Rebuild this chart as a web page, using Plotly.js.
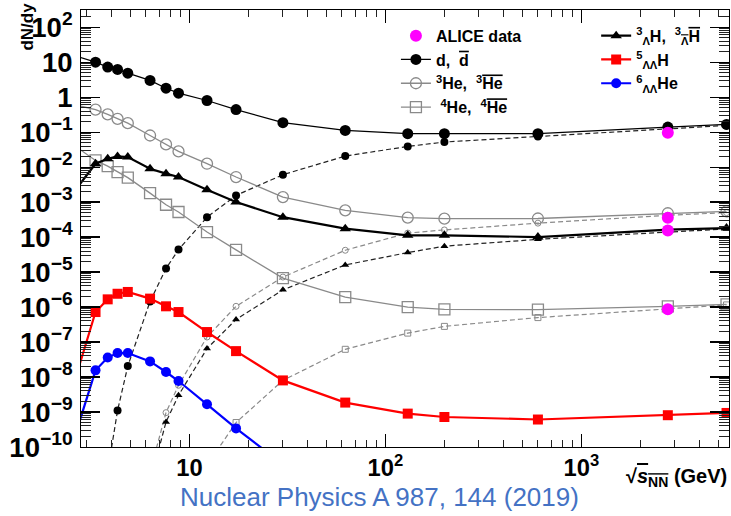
<!DOCTYPE html>
<html><head><meta charset="utf-8">
<script src="https://cdn.plot.ly/plotly-3.0.1.min.js"></script>
<style>html,body{margin:0;padding:0;background:#fff}#chart{width:731px;height:516px}</style>
</head><body><div id="chart"></div>
<script>
// sqrt(s_NN) in GeV
const energy = [2.4, 3.32, 3.83, 4.3, 4.85, 6.3, 7.6, 8.8, 12.3, 17.3, 30, 62.4, 130, 200, 600, 2760, 5500];

const deuteron     = [17.6, 10, 7.2, 6.2, 4.85, 3.0, 1.8, 1.3, 0.80, 0.44, 0.186, 0.112, 0.090, 0.090, 0.090, 0.139, 0.166];
const antiDeuteron = [null, null, 2e-11, 1.1e-9, 2.05e-8, 1.45e-6, 1.26e-5, 4.4e-5, 3.7e-4, 1.55e-3, 6.07e-3, 0.0206, 0.039, 0.052, 0.075, 0.125, 0.155];
const he3          = [0.67, 0.44, 0.32, 0.24, 0.18, 0.080, 0.0446, 0.0281, 0.0125, 5.2e-3, 1.39e-3, 5.8e-4, 3.6e-4, 3.36e-4, 3.4e-4, 4.8e-4, 5.4e-4];
const antiHe3      = [null, null, null, null, null, 2e-11, 9.6e-10, 5.8e-9, 1.39e-7, 1.05e-6, 7.2e-6, 4.2e-5, 1.3e-4, 1.6e-4, 2.5e-4, 4.2e-4, 5.0e-4];
const hyperH3      = [1.17e-3, 0.0125, 0.0174, 0.0202, 0.0193, 9.0e-3, 6.5e-3, 5.2e-3, 2.26e-3, 1.0e-3, 3.7e-4, 1.74e-4, 1.12e-4, 1.12e-4, 1.0e-4, 1.63e-4, 1.81e-4];
const antiHyperH3  = [null, null, null, null, null, 1e-11, 5.2e-10, 3.0e-9, 6.5e-8, 4.4e-7, 3.1e-6, 1.6e-5, 3.6e-5, 5.5e-5, 8.6e-5, 1.39e-4, 1.7e-4];
const he4          = [0.056, 0.0155, 0.0107, 7.2e-3, 5.0e-3, 1.8e-3, 8.4e-4, 5.2e-4, 1.39e-4, 4.3e-5, 6.7e-6, 1.93e-6, 1.0e-6, 8.6e-7, 8.4e-7, 1.05e-6, 1.2e-6];
const antiHe4      = [null, null, null, null, null, null, null, null, 3e-11, 5.0e-10, 8.0e-9, 6.2e-8, 1.8e-7, 2.8e-7, 5.0e-7, 9.0e-7, 1.15e-6];
const llH5         = [1.8e-9, 7.2e-7, 1.66e-6, 2.4e-6, 2.7e-6, 1.74e-6, 1.05e-6, 7.2e-7, 1.93e-7, 5.5e-8, 8.0e-9, 1.86e-9, 9.0e-10, 7.2e-10, 6.1e-10, 8.1e-10, 9.4e-10];
const llHe6        = [4.7e-11, 1.55e-8, 3.6e-8, 4.85e-8, 4.85e-8, 2.8e-8, 1.39e-8, 7.7e-9, 1.66e-9, 3.4e-10, 3.2e-11, null, null, null, null, null, null];

const aliceEnergy = [2760, 2760, 2760, 2760];
const aliceYield  = [0.096, 3.58e-4, 1.55e-4, 8.6e-7];

// minor tick positions (2..9 within each decade)
const xDecades = [0, 1, 2, 3];
const yDecades = [-10, -9, -8, -7, -6, -5, -4, -3, -2, -1, 0, 1, 2];
const minorDigits = [2, 3, 4, 5, 6, 7, 8, 9];
const minorVals = decs => decs.flatMap(d => minorDigits.map(k => k * Math.pow(10, d)));

const OL = s => '<span style="text-decoration:overline">' + s + '</span>';
const labels = {
  alice: 'ALICE data',
  d: 'd,  ' + OL('d'),
  he3: '<sup>3</sup>He,  <sup>3</sup>' + OL('He'),
  he4: ' <sup>4</sup>He,  <sup>4</sup>' + OL('He'),
  h3: '<sup>3</sup><sub>Λ</sub>H,  <sup>3</sup><sub>' + OL('Λ') + '</sub>' + OL('H'),
  h5: '<sup>5</sup><sub>ΛΛ</sub>H',
  he6: '<sup>6</sup><sub>ΛΛ</sub>He'
};

const GREY = '#8a8a8a';
const FONT = 'Liberation Sans, Arial, Helvetica, sans-serif';
const XRANGE = [0.447, 3.753];
const YRANGE = [-10, 2.49];

function tr(y, opt) {
  return Object.assign({x: energy, y: y, type: 'scatter', mode: 'lines+markers', showlegend: false, cliponaxis: true}, opt);
}

const data = [
  // empty trace that binds the minor-tick overlay axes
  {x: [], y: [], type: 'scatter', mode: 'markers', xaxis: 'x2', yaxis: 'y2', showlegend: false, hoverinfo: 'skip'},
  tr(antiDeuteron, {line: {color: '#222', width: 1.2, dash: '5px,3px'}, marker: {symbol: 'circle', size: 8, color: 'black'}}),
  tr(antiHe3, {line: {color: GREY, width: 1.2, dash: '5px,3px'}, marker: {symbol: 'circle-open', size: 6, color: GREY, line: {width: 1}}}),
  tr(antiHyperH3, {line: {color: '#222', width: 1.2, dash: '5px,3px'}, marker: {symbol: 'triangle-up', size: 7, color: 'black'}}),
  tr(antiHe4, {line: {color: GREY, width: 1.2, dash: '5px,3px'}, marker: {symbol: 'square-open', size: 6, color: GREY, line: {width: 1}}}),
  tr(deuteron, {name: labels.d, showlegend: true, legend: 'legend', legendrank: 2, line: {color: 'black', width: 1.2}, marker: {symbol: 'circle', size: 11, color: 'black'}}),
  tr(he3, {name: labels.he3, showlegend: true, legend: 'legend', legendrank: 3, line: {color: GREY, width: 1.3}, marker: {symbol: 'circle-open', size: 11, color: GREY, line: {width: 1.3}}}),
  tr(he4, {name: labels.he4, showlegend: true, legend: 'legend', legendrank: 4, line: {color: GREY, width: 1.3}, marker: {symbol: 'square-open', size: 11, color: GREY, line: {width: 1.3}}}),
  tr(hyperH3, {name: labels.h3, showlegend: true, legend: 'legend2', legendrank: 1, line: {color: 'black', width: 2.2}, marker: {symbol: 'triangle-up', size: 10, color: 'black'}}),
  tr(llH5, {name: labels.h5, showlegend: true, legend: 'legend2', legendrank: 2, line: {color: '#ff0000', width: 2.2}, marker: {symbol: 'square', size: 10, color: '#ff0000'}}),
  tr(llHe6, {name: labels.he6, showlegend: true, legend: 'legend2', legendrank: 3, line: {color: '#0000ff', width: 2.2}, marker: {symbol: 'circle', size: 10, color: '#0000ff'}}),
  {x: aliceEnergy, y: aliceYield, type: 'scatter', mode: 'markers', name: labels.alice, showlegend: true, legend: 'legend', legendrank: 1,
   marker: {symbol: 'circle', size: 12, color: '#ff00ff'}}
];

const legendCommon = {
  yanchor: 'top', xanchor: 'left', bgcolor: 'rgba(0,0,0,0)', borderwidth: 0,
  font: {family: FONT, size: 16, weight: 'bold', color: 'black'}, itemwidth: 30, tracegroupgap: 0
};

const layout = {
  width: 731, height: 516,
  margin: {l: 81, r: 2, t: 10, b: 69},
  paper_bgcolor: 'white', plot_bgcolor: 'white',
  font: {family: FONT, color: 'black'},
  xaxis: {
    type: 'log', range: XRANGE, dtick: 1, exponentformat: 'power',
    showline: true, linecolor: 'black', linewidth: 1, mirror: 'allticks',
    ticks: 'inside', ticklen: 13, tickwidth: 1.2, tickcolor: 'black', showgrid: false, zeroline: false,
    tickfont: {family: FONT, size: 19, weight: 'bold', color: 'black'}
  },
  xaxis2: {
    type: 'log', range: XRANGE, overlaying: 'x', anchor: 'y2', side: 'bottom',
    tickmode: 'array', tickvals: minorVals(xDecades), showticklabels: false,
    showline: true, linecolor: 'black', linewidth: 1, mirror: 'allticks',
    ticks: 'inside', ticklen: 7, tickwidth: 1, tickcolor: '#222', showgrid: false, zeroline: false
  },
  yaxis: {
    type: 'log', range: YRANGE, dtick: 1, exponentformat: 'power',
    showline: true, linecolor: 'black', linewidth: 1, mirror: 'allticks',
    ticks: 'inside', ticklen: 19, tickwidth: 1.2, tickcolor: 'black', showgrid: false, zeroline: false,
    tickfont: {family: FONT, size: 22, weight: 'bold', color: 'black'},
    ticklabelstandoff: 3
  },
  yaxis2: {
    type: 'log', range: YRANGE, overlaying: 'y', anchor: 'x2', side: 'left',
    tickmode: 'array', tickvals: minorVals(yDecades), showticklabels: false,
    showline: true, linecolor: 'black', linewidth: 1, mirror: 'allticks',
    ticks: 'inside', ticklen: 10, tickwidth: 1, tickcolor: '#222', showgrid: false, zeroline: false
  },
  legend: Object.assign({x: 0.486, y: 0.98}, legendCommon),
  legend2: Object.assign({x: 0.795, y: 0.98}, legendCommon),
  annotations: [
    {text: '<b>dN/dy</b>', textangle: -90, xref: 'paper', yref: 'paper', x: -0.0818, y: 0.962,
     xanchor: 'center', yanchor: 'middle', showarrow: false, font: {family: FONT, size: 17, color: 'black'}},
    {text: '<b>√' + OL('<i>s</i><sub>NN</sub>') + ' (GeV)</b>', xref: 'paper', yref: 'paper', x: 1, y: -0.0687,
     xanchor: 'right', yanchor: 'middle', showarrow: false, font: {family: FONT, size: 20, color: 'black'}},
    {text: 'Nuclear Physics A 987, 144 (2019)', xref: 'paper', yref: 'paper', x: 0.4614, y: -0.1144,
     xanchor: 'center', yanchor: 'middle', showarrow: false, font: {family: FONT, size: 26, color: '#4472c4'}}
  ]
};

Plotly.newPlot('chart', data, layout, {displayModeBar: false, staticPlot: true});
</script></body></html>
